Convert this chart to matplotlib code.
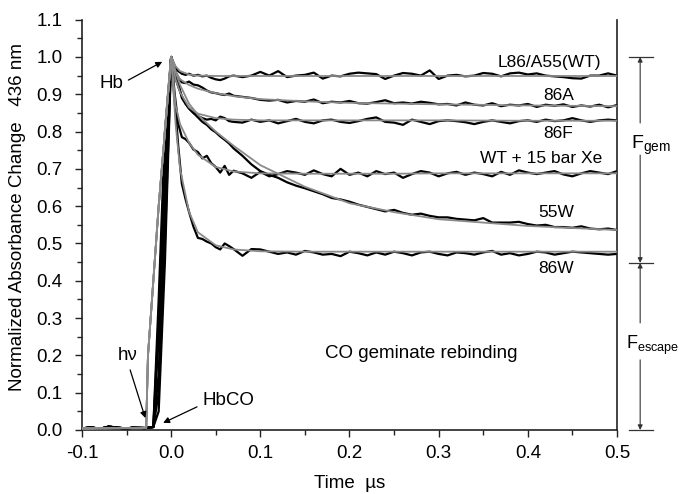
import numpy as np
import matplotlib
matplotlib.use("Agg")
import matplotlib.pyplot as plt

plt.rcParams['font.family'] = ['Liberation Sans', 'DejaVu Sans']
plt.rcParams['mathtext.default'] = 'regular'

# time grid of the measured traces (µs)
t_pre = [-0.100, -0.090, -0.080, -0.070, -0.060, -0.050, -0.040, -0.030, -0.020]
t_rise = [-0.014, -0.007, 0.000]
t_early = [0.004, 0.008, 0.012, 0.016, 0.020, 0.025, 0.030, 0.035, 0.040, 0.045,
           0.050, 0.055, 0.060, 0.065, 0.070, 0.080, 0.090, 0.100]
t_late = list(np.round(np.arange(0.11, 0.505, 0.01), 2))
t_trace = t_pre + t_rise + t_early + t_late

baseline = [0.004, 0.007, 0.003, 0.009, 0.006, 0.004, 0.007, 0.005, 0.008]

# measured traces (black)
wt_rise = [0.30, 0.75, 1.0]
wt_decay = [0.975, 0.962, 0.955, 0.952, 0.955, 0.950, 0.952, 0.948, 0.950, 0.944,
            0.940, 0.938, 0.942, 0.948, 0.950, 0.946, 0.950, 0.960,
            0.950, 0.962, 0.946, 0.950, 0.952, 0.958, 0.942, 0.950, 0.948, 0.955,
            0.958, 0.956, 0.954, 0.941, 0.950, 0.957, 0.955, 0.950, 0.964, 0.941,
            0.950, 0.952, 0.948, 0.950, 0.957, 0.955, 0.948, 0.956, 0.958, 0.953,
            0.956, 0.950, 0.948, 0.946, 0.943, 0.942, 0.950, 0.950, 0.956, 0.950]

a86_rise = [0.10, 0.50, 1.0]
a86_decay = [0.965, 0.945, 0.932, 0.930, 0.934, 0.926, 0.924, 0.918, 0.910, 0.905,
             0.903, 0.900, 0.898, 0.902, 0.896, 0.893, 0.890, 0.885,
             0.883, 0.885, 0.878, 0.882, 0.880, 0.886, 0.876, 0.880, 0.878, 0.882,
             0.876, 0.875, 0.879, 0.884, 0.876, 0.878, 0.875, 0.880, 0.877, 0.873,
             0.874, 0.870, 0.878, 0.872, 0.870, 0.876, 0.868, 0.872, 0.870, 0.874,
             0.866, 0.872, 0.869, 0.873, 0.866, 0.870, 0.867, 0.872, 0.865, 0.871]

f86_rise = [0.35, 0.80, 1.0]
f86_decay = [0.950, 0.920, 0.895, 0.875, 0.862, 0.850, 0.842, 0.836, 0.832, 0.834,
             0.830, 0.840, 0.836, 0.828, 0.826, 0.824, 0.832, 0.826,
             0.830, 0.822, 0.828, 0.834, 0.826, 0.822, 0.830, 0.832, 0.826, 0.823,
             0.828, 0.834, 0.838, 0.826, 0.824, 0.818, 0.832, 0.826, 0.820, 0.828,
             0.830, 0.828, 0.825, 0.820, 0.826, 0.830, 0.826, 0.822, 0.828, 0.830,
             0.826, 0.832, 0.828, 0.830, 0.836, 0.830, 0.826, 0.830, 0.832, 0.830]

xe_rise = [0.05, 0.45, 1.0]
xe_decay = [0.900, 0.820, 0.785, 0.780, 0.770, 0.752, 0.745, 0.728, 0.735, 0.715,
            0.705, 0.690, 0.708, 0.684, 0.695, 0.688, 0.676, 0.692,
            0.680, 0.686, 0.694, 0.690, 0.684, 0.696, 0.686, 0.680, 0.700, 0.684,
            0.690, 0.680, 0.694, 0.686, 0.690, 0.676, 0.686, 0.694, 0.690, 0.680,
            0.688, 0.692, 0.684, 0.690, 0.686, 0.680, 0.692, 0.684, 0.696, 0.690,
            0.686, 0.690, 0.694, 0.685, 0.680, 0.688, 0.694, 0.690, 0.686, 0.694]

w55_rise = [0.25, 0.70, 1.0]
w55_decay = [0.970, 0.930, 0.890, 0.875, 0.862, 0.850, 0.838, 0.826, 0.818, 0.806,
             0.798, 0.787, 0.778, 0.768, 0.755, 0.735, 0.712, 0.694,
             0.684, 0.676, 0.664, 0.655, 0.648, 0.640, 0.632, 0.622, 0.618, 0.612,
             0.604, 0.598, 0.592, 0.586, 0.590, 0.582, 0.577, 0.580, 0.574, 0.570,
             0.570, 0.566, 0.564, 0.562, 0.568, 0.556, 0.556, 0.556, 0.558, 0.552,
             0.548, 0.550, 0.544, 0.544, 0.542, 0.546, 0.540, 0.538, 0.540, 0.536]

w86_rise = [0.15, 0.60, 1.0]
w86_decay = [0.880, 0.760, 0.660, 0.620, 0.585, 0.545, 0.515, 0.512, 0.505, 0.500,
             0.490, 0.484, 0.500, 0.493, 0.485, 0.467, 0.485, 0.484,
             0.478, 0.472, 0.476, 0.470, 0.480, 0.476, 0.470, 0.472, 0.466, 0.478,
             0.474, 0.468, 0.476, 0.470, 0.478, 0.474, 0.468, 0.476, 0.478, 0.472,
             0.468, 0.476, 0.474, 0.470, 0.476, 0.480, 0.470, 0.474, 0.468, 0.472,
             0.478, 0.476, 0.470, 0.474, 0.478, 0.476, 0.474, 0.472, 0.470, 0.472]

# fits (gray)
t_fit = [-0.100, -0.028, -0.026, -0.014, 0.000, 0.005, 0.010, 0.020, 0.030, 0.050,
         0.070, 0.100, 0.150, 0.200, 0.250, 0.300, 0.400, 0.500]
fit_rise = [0.004, 0.006, 0.20, 0.60, 1.0]
wt_fit = [0.975, 0.962, 0.953, 0.950, 0.949, 0.949, 0.949, 0.949, 0.949, 0.949, 0.949, 0.949, 0.949]
a86_fit = [0.960, 0.940, 0.925, 0.915, 0.903, 0.895, 0.887, 0.881, 0.877, 0.875, 0.873, 0.870, 0.868]
f86_fit = [0.940, 0.905, 0.865, 0.848, 0.836, 0.832, 0.830, 0.830, 0.830, 0.830, 0.830, 0.829, 0.829]
xe_fit = [0.870, 0.820, 0.770, 0.738, 0.705, 0.693, 0.688, 0.687, 0.687, 0.687, 0.688, 0.688, 0.688]
w55_fit = [0.960, 0.925, 0.875, 0.845, 0.800, 0.762, 0.710, 0.652, 0.608, 0.584, 0.565, 0.547, 0.536]
w86_fit = [0.820, 0.700, 0.585, 0.530, 0.495, 0.484, 0.479, 0.478, 0.478, 0.478, 0.478, 0.478, 0.478]

labels = ['L86/A55(WT)', '86A', '86F', 'WT + 15 bar Xe', '55W', '86W']
label_x = [0.4245, 0.435, 0.434, 0.415, 0.432, 0.432]
label_y = [0.984, 0.898, 0.796, 0.729, 0.582, 0.432]

traces = [(wt_rise, wt_decay), (a86_rise, a86_decay), (f86_rise, f86_decay),
          (xe_rise, xe_decay), (w55_rise, w55_decay), (w86_rise, w86_decay)]
fits = [wt_fit, a86_fit, f86_fit, xe_fit, w55_fit, w86_fit]

fig = plt.figure(figsize=(6.81, 4.94), dpi=100)
ax = fig.add_axes([0.1204, 0.1296, 0.7856, 0.8306])

for rise, decay in traces:
    ax.plot(t_trace, baseline + rise + decay, color='black', lw=1.6, zorder=2)
for f in fits:
    ax.plot(t_fit, fit_rise + f, color='#8a8a8a', lw=1.3, zorder=3)

for lab, lx, ly in zip(labels, label_x, label_y):
    ax.text(lx, ly, lab, ha='center', va='center', fontsize=12.5)

ax.set_xlim(-0.1, 0.5)
ax.set_ylim(0, 1.1)
ax.set_xticks(np.round(np.arange(-0.1, 0.55, 0.1), 1))
ax.set_xticks(np.round(np.arange(-0.05, 0.5, 0.1), 2), minor=True)
ax.set_yticks(np.round(np.arange(0, 1.15, 0.1), 1))
ax.set_yticks(np.round(np.arange(0.05, 1.1, 0.1), 2), minor=True)
ax.xaxis.set_major_formatter(matplotlib.ticker.FormatStrFormatter('%.1f'))
ax.yaxis.set_major_formatter(matplotlib.ticker.FormatStrFormatter('%.1f'))
ax.tick_params(which='major', direction='out', length=5, width=1, labelsize=13.5, color='#222222')
ax.tick_params(which='minor', direction='out', length=3.5, width=1, color='#222222')
ax.tick_params(axis='x', which='major', pad=6)
ax.tick_params(axis='y', which='major', pad=9)
ax.spines['top'].set_visible(False)
for s in ['left', 'bottom', 'right']:
    ax.spines[s].set_linewidth(1.2)
    ax.spines[s].set_color('#222222')

ax.set_xlabel('Time  µs', fontsize=13.5, labelpad=9)
ax.set_ylabel('Normalized Absorbance Change   436 nm', fontsize=13.5)
ax.yaxis.set_label_coords(-0.104, 0.519)

arrow = dict(arrowstyle='-|>', color='black', lw=0.9, mutation_scale=9, shrinkA=0, shrinkB=0)
ax.text(-0.054, 0.930, 'Hb', fontsize=13.5, ha='right', va='center')
ax.annotate('', xy=(-0.010, 0.987), xytext=(-0.048, 0.938), arrowprops=arrow)
ax.text(-0.049, 0.201, 'h\u03bd', fontsize=13.5, ha='center', va='center')
ax.annotate('', xy=(-0.029, 0.032), xytext=(-0.046, 0.161), arrowprops=arrow)
ax.text(0.035, 0.080, 'HbCO', fontsize=13.5, ha='left', va='center')
ax.annotate('', xy=(-0.009, 0.019), xytext=(0.029, 0.062), arrowprops=arrow)
ax.text(0.280, 0.206, 'CO geminate rebinding', ha='center', va='center', fontsize=13.5)

# F_gem / F_escape brackets outside the right axis
gray_arrow = dict(arrowstyle='-|>', color='#333333', lw=0.8, mutation_scale=7, shrinkA=0, shrinkB=0)
for yy in [1.0, 0.448, 0.0]:
    ax.plot([0.513, 0.540], [yy, yy], color='#333333', lw=0.9, clip_on=False)
for y0, y1 in [(0.823, 1.0), (0.737, 0.448), (0.287, 0.448), (0.188, 0.0)]:
    ax.annotate('', xy=(0.526, y1), xytext=(0.526, y0), arrowprops=gray_arrow,
                annotation_clip=False)
ax.text(0.516, 0.764, r'F$_{gem}$', fontsize=14, ha='left', va='center')
ax.text(0.510, 0.228, r'F$_{escape}$', fontsize=13, ha='left', va='center')

fig.savefig('out.png', dpi=100)
